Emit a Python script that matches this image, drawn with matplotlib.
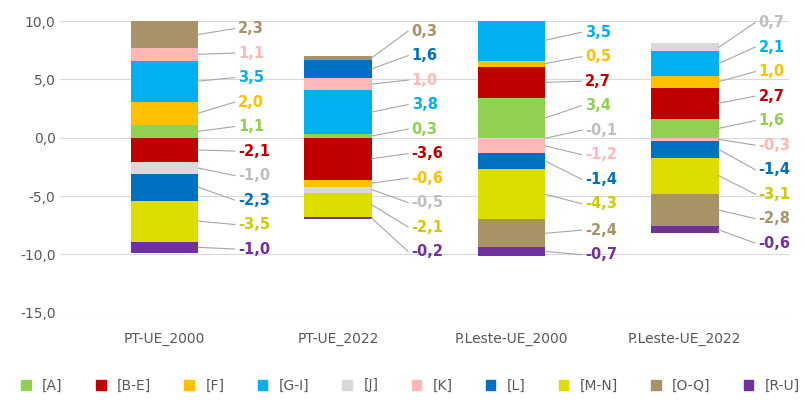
import matplotlib
matplotlib.use("Agg")
import matplotlib.pyplot as plt
import numpy as np
from matplotlib.patches import Patch

groups = ["PT-UE_2000", "PT-UE_2022", "P.Leste-UE_2000", "P.Leste-UE_2022"]
cats = ["[A]", "[B-E]", "[F]", "[G-I]", "[J]", "[K]", "[L]", "[M-N]", "[O-Q]", "[R-U]"]
colors = ["#92D050", "#C00000", "#FFC000", "#00B0F0", "#D9D9D9", "#FFB7B7",
          "#0070C0", "#DDDD00", "#A89368", "#7030A0"]
text_colors = ["#92D050", "#C00000", "#FFC000", "#00B0F0", "#BFBFBF", "#FFB7B7",
               "#0070C0", "#CCCC00", "#A89368", "#7030A0"]
values = {
    "PT-UE_2000":      [1.1, -2.1, 2.0, 3.5, -1.0, 1.1, -2.3, -3.5, 2.3, -1.0],
    "PT-UE_2022":      [0.3, -3.6, -0.6, 3.8, -0.5, 1.0, 1.6, -2.1, 0.3, -0.2],
    "P.Leste-UE_2000": [3.4, 2.7, 0.5, 3.5, -0.1, -1.2, -1.4, -4.3, -2.4, -0.7],
    "P.Leste-UE_2022": [1.6, 2.7, 1.0, 2.1, 0.7, -0.3, -1.4, -3.1, -2.8, -0.6],
}

fig = plt.figure(figsize=(8.05, 4.05), dpi=100)
ax = fig.add_axes([0.075, 0.228, 0.905, 0.72])
w = 0.39
for gi, g in enumerate(groups):
    pos, neg = 0.0, 0.0
    segs = []
    for ci, v in enumerate(values[g]):
        if v >= 0:
            b = pos; pos += v
        else:
            b = neg; neg += v
        ax.bar(gi, v, w, bottom=b, color=colors[ci], zorder=3)
        segs.append([b + v / 2, b + v / 2, ci, v])
    segs.sort(key=lambda s: s[0])
    gap = 2.1
    for _ in range(300):
        moved = False
        for i in range(len(segs) - 1):
            d = segs[i + 1][1] - segs[i][1]
            if d < gap - 1e-6:
                sh = (gap - d) / 2
                segs[i][1] -= sh; segs[i + 1][1] += sh
                moved = True
        if not moved:
            break
    x0 = gi + w / 2
    xl = gi + w / 2 + 0.23
    for yc, yl, ci, v in segs:
        ax.plot([x0, xl - 0.02], [yc, yl], color="#A6A6A6", lw=0.8, zorder=4, clip_on=False)
        ax.text(xl, yl, f"{v:.1f}".replace(".", ","), color=text_colors[ci],
                fontsize=10.5, fontweight="bold", va="center", ha="left")

ax.set_ylim(-15, 10)
ax.set_xlim(-0.6, 3.6)
ax.set_yticks(np.arange(-15, 11, 5))
ax.set_yticklabels([f"{t:.1f}".replace(".", ",") for t in np.arange(-15, 11, 5)])
ax.set_xticks(range(4))
ax.set_xticklabels(groups)
ax.tick_params(length=0, labelsize=10, colors="#595959")
ax.tick_params(axis="x", pad=14)
ax.grid(axis="y", color="#D9D9D9", lw=0.8, zorder=0)
for s in ax.spines.values():
    s.set_visible(False)
handles = [Patch(color=c, label=l) for c, l in zip(colors, cats)]
fig.legend(handles=handles, loc="lower center", ncol=10, frameon=False,
           bbox_to_anchor=(0.51, 0.0), fontsize=10, handlelength=0.7, handleheight=0.7,
           columnspacing=2.4, labelcolor="#595959")
fig.savefig("out.png")
